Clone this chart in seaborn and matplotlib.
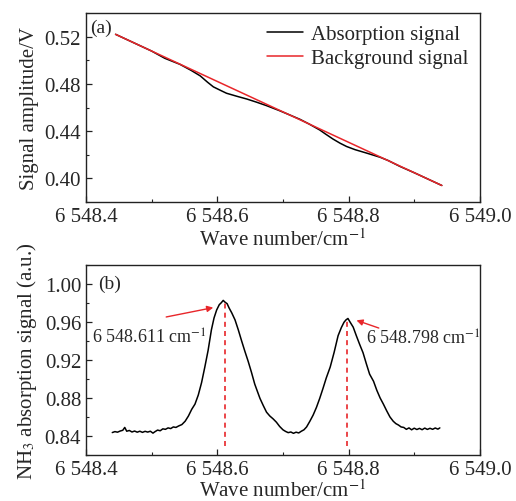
import numpy as np
import pandas as pd
import matplotlib
matplotlib.use('Agg')
import matplotlib.pyplot as plt
import seaborn as sns

# (a) absorption vs. background signal
wn_a = [6548.445, 6548.50, 6548.52, 6548.543, 6548.56, 6548.574, 6548.585,
        6548.594, 6548.605, 6548.614, 6548.63, 6548.645, 6548.66, 6548.675,
        6548.695, 6548.71, 6548.726, 6548.74, 6548.756, 6548.765, 6548.776,
        6548.787, 6548.797, 6548.81, 6548.827, 6548.848, 6548.86, 6548.878,
        6548.90, 6548.942]
absorption = [0.5220, 0.5078, 0.5017, 0.4966, 0.4915, 0.4868, 0.4815,
              0.4775, 0.4745, 0.4721, 0.4695, 0.4672, 0.4645, 0.4616,
              0.4573, 0.4538, 0.4500, 0.4460, 0.4410, 0.4375, 0.4334,
              0.4298, 0.4270, 0.4243, 0.4215, 0.4179, 0.4152, 0.4102,
              0.4048, 0.3940]
wn_bg = [6548.445, 6548.942]
background = [0.5220, 0.3940]

# (b) NH3 absorption signal
wn_b = [6548.440, 6548.444, 6548.448, 6548.452, 6548.456, 6548.459, 6548.462,
        6548.466, 6548.470, 6548.474, 6548.478, 6548.482, 6548.486, 6548.490,
        6548.494, 6548.498, 6548.502, 6548.505, 6548.509, 6548.513, 6548.517,
        6548.521, 6548.525, 6548.529, 6548.533, 6548.537, 6548.541, 6548.546,
        6548.551, 6548.556, 6548.561, 6548.566, 6548.571, 6548.576, 6548.581,
        6548.586, 6548.591, 6548.595, 6548.599, 6548.603, 6548.606, 6548.609,
        6548.612, 6548.615, 6548.618, 6548.622, 6548.627, 6548.632, 6548.637,
        6548.642, 6548.647, 6548.652, 6548.657, 6548.661, 6548.665, 6548.670,
        6548.675, 6548.680, 6548.685, 6548.690, 6548.695, 6548.700, 6548.704,
        6548.708, 6548.712, 6548.716, 6548.720, 6548.724, 6548.728, 6548.732,
        6548.736, 6548.741, 6548.746, 6548.751, 6548.756, 6548.761, 6548.766,
        6548.772, 6548.778, 6548.784, 6548.789, 6548.793, 6548.796, 6548.799,
        6548.802, 6548.807, 6548.812, 6548.817, 6548.822, 6548.827, 6548.832,
        6548.838, 6548.843, 6548.848, 6548.853, 6548.858, 6548.863, 6548.868,
        6548.872, 6548.876, 6548.880, 6548.884, 6548.888, 6548.892, 6548.896,
        6548.900, 6548.904, 6548.908, 6548.912, 6548.916, 6548.920, 6548.924,
        6548.928, 6548.932, 6548.936, 6548.939]
nh3 = [0.8436, 0.8446, 0.8440, 0.8452, 0.8460, 0.8490, 0.8450,
       0.8458, 0.8442, 0.8452, 0.8440, 0.8450, 0.8438, 0.8449,
       0.8441, 0.8450, 0.8430, 0.8445, 0.8462, 0.8455, 0.8475,
       0.8470, 0.8485, 0.8478, 0.8495, 0.8490, 0.8505, 0.8520,
       0.8555, 0.8610, 0.8680, 0.8735, 0.8830, 0.8960, 0.9125,
       0.9300, 0.9515, 0.9640, 0.9724, 0.9780, 0.9800, 0.9825,
       0.9805, 0.9790, 0.9745, 0.9694, 0.9620, 0.9515, 0.9400,
       0.9290, 0.9185, 0.9070, 0.8946, 0.8870, 0.8795, 0.8720,
       0.8650, 0.8610, 0.8580, 0.8545, 0.8500, 0.8465, 0.8448,
       0.8435, 0.8442, 0.8428, 0.8440, 0.8432, 0.8450, 0.8465,
       0.8495, 0.8555, 0.8620, 0.8700, 0.8795, 0.8900, 0.9010,
       0.9125, 0.9280, 0.9454, 0.9540, 0.9595, 0.9620, 0.9635,
       0.9600, 0.9544, 0.9450, 0.9360, 0.9275, 0.9160, 0.9050,
       0.8975, 0.8880, 0.8800, 0.8735, 0.8665, 0.8600, 0.8555,
       0.8530, 0.8515, 0.8495, 0.8490, 0.8470, 0.8485, 0.8465,
       0.8482, 0.8468, 0.8480, 0.8466, 0.8483, 0.8469, 0.8481,
       0.8470, 0.8484, 0.8472, 0.8485]

peak_wn = [6548.611, 6548.798]
peak_val = [0.982, 0.962]
peak_labels = ['6 548.611 cm$^{-1}$', '6 548.798 cm$^{-1}$']

xticks = [6548.4, 6548.6, 6548.8, 6549.0]
xticklabels = ['6 548.4', '6 548.6', '6 548.8', '6 549.0']

sns.set_style('ticks')
plt.rcParams['font.family'] = ['Liberation Serif', 'DejaVu Serif']
plt.rcParams['mathtext.fontset'] = 'stix'

fig = plt.figure(figsize=(5.16, 5.02), dpi=100)
ax1 = fig.add_axes([0.1667, 0.5956, 0.7633, 0.3764])
ax2 = fig.add_axes([0.1667, 0.0916, 0.7633, 0.3791])

df_a = pd.DataFrame({'wn': wn_a, 'v': absorption})
df_bg = pd.DataFrame({'wn': wn_bg, 'v': background})
sns.lineplot(data=df_a, x='wn', y='v', ax=ax1, color='black', lw=1.1,
             label='Absorption signal')
sns.lineplot(data=df_bg, x='wn', y='v', ax=ax1, color='#e8262a', lw=1.1,
             label='Background signal')
ax1.set_ylim(0.38, 0.54)
ax1.set_yticks([0.40, 0.44, 0.48, 0.52])
ax1.set_yticklabels(['0.40', '0.44', '0.48', '0.52'])
ax1.set_ylabel('Signal amplitude/V', fontsize=15, labelpad=4)
ax1.legend(loc='upper right', frameon=False, fontsize=15, handlelength=1.7,
           borderaxespad=0.15, labelspacing=0.2, handletextpad=0.4)
ax1.text(0.01, 0.97, '(a)', transform=ax1.transAxes, fontsize=14, va='top')

df_b = pd.DataFrame({'wn': wn_b, 'v': nh3})
sns.lineplot(data=df_b, x='wn', y='v', ax=ax2, color='black', lw=1.1)
ax2.set_ylim(0.829, 1.0)
ax2.set_yticks([0.84, 0.88, 0.92, 0.96, 1.00])
ax2.set_yticklabels(['0.84', '0.88', '0.92', '0.96', '1.00'])
ax2.set_ylabel('NH$_3$ absorption signal (a.u.)', fontsize=15, labelpad=4)
ax2.text(0.03, 0.95, '(b)', transform=ax2.transAxes, fontsize=14, va='top')
for w, v in zip(peak_wn, peak_val):
    ax2.plot([w, w], [0.829, v], ls=(0, (3, 2.5)), color='#e8262a', lw=1.2)

ax2.annotate('', xy=(6548.598, 0.9755), xytext=(6548.518, 0.9645),
             arrowprops=dict(arrowstyle='-|>', color='#e8262a', lw=1.0,
                             mutation_scale=9))
ax2.text(6548.409, 0.944, peak_labels[0], fontsize=13, va='center')
ax2.annotate('', xy=(6548.808, 0.9625), xytext=(6548.850, 0.9525),
             arrowprops=dict(arrowstyle='-|>', color='#e8262a', lw=1.0,
                             mutation_scale=9))
ax2.text(6548.826, 0.9425, peak_labels[1], fontsize=13, va='center')

for ax, pad in ((ax1, 2), (ax2, 0)):
    ax.set_xlim(6548.4, 6549.0)
    ax.set_xticks(xticks)
    ax.set_xticklabels(xticklabels)
    ax.set_xlabel('Wave number/cm$^{-1}$', fontsize=15, labelpad=pad)
    ax.set_xticks([6548.5, 6548.7, 6548.9], minor=True)
    yt = ax.get_yticks()
    step = yt[1] - yt[0]
    ax.set_yticks([y + step / 2 for y in yt[:-1]] +
                  [yt[0] - step / 2, yt[-1] + step / 2], minor=True)
    ax.tick_params(which='both', direction='in', top=False, right=False,
                   labelsize=15, color='#222222')
    ax.tick_params(which='major', length=4, width=0.9)
    ax.tick_params(which='minor', length=2.5, width=0.8)
    for s in ax.spines.values():
        s.set_visible(True)
        s.set_linewidth(1.0)
        s.set_color('#222222')

fig.savefig('out.png', dpi=100)
